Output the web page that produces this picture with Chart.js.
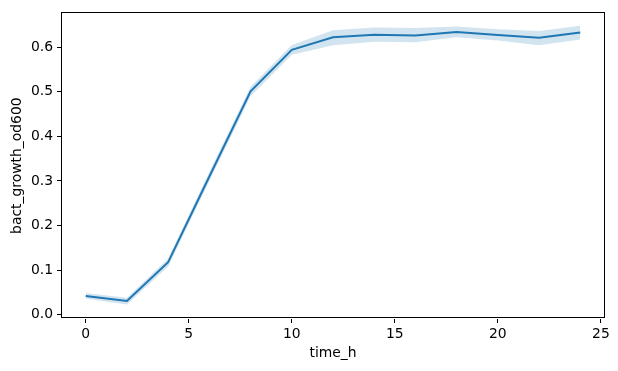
<!doctype html>
<meta charset="utf-8">
<style>
    html, body { margin: 0; padding: 0; background: #fff; }
    #wrap { width: 618px; height: 371px; }
</style>
<script src="https://cdn.jsdelivr.net/npm/chart.js@4.4.8/dist/chart.umd.min.js"></script>

<div id="wrap"><canvas id="chart" width="618" height="371"></canvas></div>

<script>
    const timeH = [0, 2, 4, 6, 8, 10, 12, 14, 16, 18, 20, 22, 24];
    const meanOd = [0.042, 0.031, 0.118, 0.31, 0.501, 0.594, 0.622, 0.628, 0.626, 0.634, 0.627, 0.621, 0.633];
    const lowOd = [0.036, 0.023, 0.108, 0.30, 0.490, 0.583, 0.604, 0.612, 0.611, 0.622, 0.615, 0.604, 0.617];
    const highOd = [0.049, 0.038, 0.126, 0.32, 0.511, 0.605, 0.638, 0.644, 0.643, 0.646, 0.640, 0.636, 0.648];
    const xTicks = [0, 5, 10, 15, 20, 25];
    const yTicks = [0.0, 0.1, 0.2, 0.3, 0.4, 0.5, 0.6];

    const blue = "#1f77b4";
    const font = {family: "DejaVu Sans", size: 13.9};
    const pts = arr => timeH.map((t, i) => ({x: t, y: arr[i]}));

    const frame = {
        id: "frame",
        afterDraw(chart) {
            const {left, top, right, bottom} = chart.chartArea;
            const ctx = chart.ctx;
            ctx.save();
            ctx.strokeStyle = "#000";
            ctx.lineWidth = 1;
            ctx.strokeRect(Math.floor(left) + 0.5, Math.floor(top) + 0.5,
                Math.floor(right) - Math.floor(left) - 1, Math.floor(bottom) - Math.floor(top) - 1);
            ctx.restore();
        }
    };

    new Chart(document.getElementById("chart"), {
        type: "line",
        plugins: [frame],
        data: {
            datasets: [{
                label: "mean",
                data: pts(meanOd),
                borderColor: blue,
                borderWidth: 2,
                pointRadius: 0,
                fill: false
            }, {
                label: "upper",
                data: pts(highOd),
                borderWidth: 0,
                borderColor: "rgba(0,0,0,0)",
                pointRadius: 0,
                backgroundColor: "rgba(31,119,180,0.2)",
                fill: "+1"
            }, {
                label: "lower",
                data: pts(lowOd),
                borderWidth: 0,
                borderColor: "rgba(0,0,0,0)",
                pointRadius: 0,
                fill: false
            }]
        },
        options: {
            responsive: false,
            animation: false,
            layout: {padding: {top: 10, right: 13, left: 0, bottom: 0}},
            plugins: {
                legend: {display: false},
                tooltip: {enabled: false}
            },
            scales: {
                x: {
                    type: "linear",
                    min: -1.2,
                    max: 25.2,
                    afterFit(axis) { axis.height = 52; },
                    afterBuildTicks(axis) { axis.ticks = xTicks.map(v => ({value: v})); },
                    grid: {drawOnChartArea: false, drawTicks: true, tickLength: 4, color: "#000"},
                    border: {display: false},
                    ticks: {
                        color: "#000",
                        font: font,
                        padding: 3,
                        maxRotation: 0,
                        callback: v => String(v)
                    },
                    title: {
                        display: true,
                        text: "time_h",
                        color: "#000",
                        font: font,
                        padding: {top: 0, bottom: 9}
                    }
                },
                y: {
                    type: "linear",
                    min: -0.0095,
                    max: 0.678,
                    afterFit(axis) { axis.width = 61; },
                    afterBuildTicks(axis) { axis.ticks = yTicks.map(v => ({value: v})); },
                    grid: {drawOnChartArea: false, drawTicks: true, tickLength: 4, color: "#000"},
                    border: {display: false},
                    ticks: {
                        color: "#000",
                        font: font,
                        padding: 4,
                        callback: v => Number(v).toFixed(1)
                    },
                    title: {
                        display: true,
                        text: "bact_growth_od600",
                        color: "#000",
                        font: font,
                        padding: {top: 9, bottom: 0}
                    }
                }
            }
        }
    });
</script>
